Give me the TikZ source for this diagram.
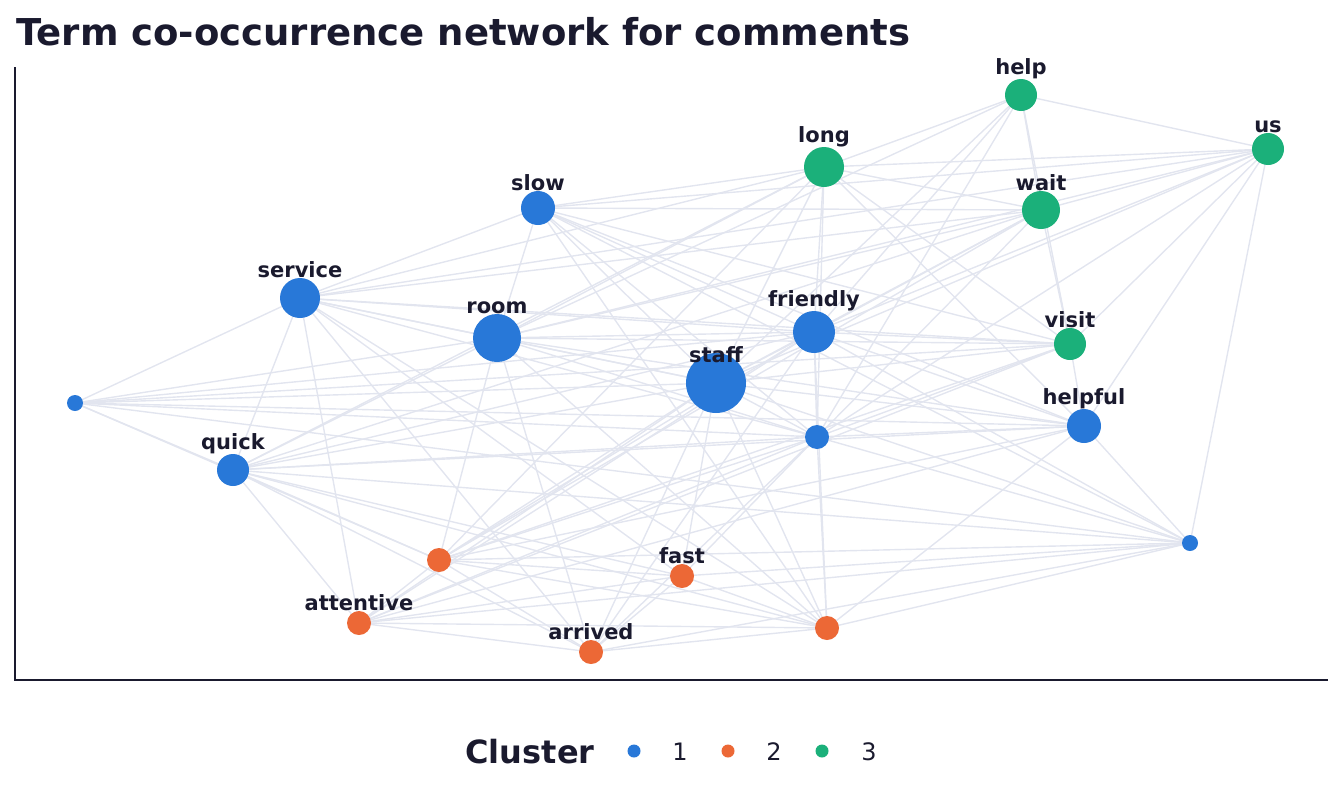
\documentclass[tikz,border=0pt]{standalone}
\usepackage{fontspec}
\setmainfont{DejaVu Sans}
\begin{document}
\begin{tikzpicture}[x=1pt,y=-1pt,
 edge/.style={draw=edgec,line width=1.4pt},
 lbl/.style={font=\bfseries\fontsize{21}{21}\selectfont,text=ink,anchor=south},
 c1/.style={circle,fill=blue1,inner sep=0pt},
 c2/.style={circle,fill=orange2,inner sep=0pt},
 c3/.style={circle,fill=green3,inner sep=0pt}]
\definecolor{edgec}{HTML}{E2E5EF}
\definecolor{ink}{HTML}{1A1A2E}
\definecolor{blue1}{HTML}{2878D8}
\definecolor{orange2}{HTML}{EC6836}
\definecolor{green3}{HTML}{1BB07A}
\useasboundingbox (0,0) rectangle (1344,806);
\foreach \n/\x/\y in {help/1021/95,us/1268/149,long/824/167,wait/1041/210,slow/538/208,serv/300/298,room/497/338,fri/814/332,visit/1070/344,staff/716/383,a/75/403,b/817/437,hful/1084/426,quick/233/470,c/1190/543,o1/439/560,fast/682/576,att/359/623,arr/591/652,o2/827/628}
  \coordinate (\n) at (\x,\y);
\foreach \s/\t in {help/long,help/wait,help/us,help/fri,help/b,help/room,help/staff,help/visit,
 us/long,us/wait,us/slow,us/room,us/visit,us/hful,us/staff,us/fri,us/b,us/c,us/serv,
 long/slow,long/serv,long/room,long/fri,long/wait,long/staff,long/visit,long/b,long/hful,long/o1,long/quick,
 wait/slow,wait/serv,wait/room,wait/fri,wait/visit,wait/staff,wait/b,wait/quick,wait/o1,
 slow/serv,slow/room,slow/fri,slow/staff,slow/hful,slow/b,slow/visit,slow/o2,slow/c,
 serv/room,serv/fri,serv/staff,serv/a,serv/quick,serv/visit,serv/att,serv/arr,serv/o2,serv/fast,serv/b,
 room/fri,room/staff,room/visit,room/a,room/quick,room/o1,room/arr,room/b,room/o2,room/hful,
 fri/staff,fri/visit,fri/b,fri/o1,fri/att,fri/hful,fri/quick,fri/a,fri/arr,fri/o2,fri/c,
 visit/staff,visit/b,visit/o1,visit/att,visit/hful,visit/a,
 staff/a,staff/b,staff/quick,staff/o1,staff/fast,staff/arr,staff/o2,staff/hful,staff/c,staff/att,
 a/quick,a/b,a/hful,a/o1,a/c,
 b/quick,b/o1,b/o2,b/att,b/fast,b/hful,b/c,b/arr,
 hful/quick,hful/o1,hful/c,hful/o2,hful/att,
 quick/o1,quick/fast,quick/arr,quick/o2,quick/c,quick/att,
 c/o1,c/fast,c/att,c/o2,c/arr,
 o1/fast,o1/arr,o1/o2,o1/att,fast/att,fast/o2,fast/arr,att/arr,att/o2,arr/o2}
  \draw[edge] (\s) -- (\t);
\node[c3,minimum size=32pt] (nhelp) at (help) {};
\node[c3,minimum size=32pt] (nus) at (us) {};
\node[c3,minimum size=40pt] (nlong) at (long) {};
\node[c3,minimum size=38pt] (nwait) at (wait) {};
\node[c1,minimum size=34pt] (nslow) at (slow) {};
\node[c1,minimum size=40pt] (nserv) at (serv) {};
\node[c1,minimum size=48pt] (nroom) at (room) {};
\node[c1,minimum size=42pt] (nfri) at (fri) {};
\node[c3,minimum size=32pt] (nvisit) at (visit) {};
\node[c1,minimum size=60pt] (nstaff) at (staff) {};
\node[c1,minimum size=16pt] (na) at (a) {};
\node[c1,minimum size=24pt] (nb) at (b) {};
\node[c1,minimum size=34pt] (nhful) at (hful) {};
\node[c1,minimum size=32pt] (nquick) at (quick) {};
\node[c1,minimum size=16pt] (nc) at (c) {};
\node[c2,minimum size=24pt] (no1) at (o1) {};
\node[c2,minimum size=24pt] (nfast) at (fast) {};
\node[c2,minimum size=24pt] (natt) at (att) {};
\node[c2,minimum size=24pt] (narr) at (arr) {};
\node[c2,minimum size=24pt] (no2) at (o2) {};
\foreach \n/\t in {help/help,us/us,long/long,wait/wait,slow/slow,serv/service,room/room,fri/friendly,visit/visit,hful/helpful,quick/quick,fast/fast,att/attentive,arr/arrived}
  \node[lbl] (l\n) at ([yshift=-4pt]n\n.north) {\t};
\node[lbl] (lstaff) at ([yshift=-14pt]nstaff.north) {staff};
\node[anchor=west,font=\bfseries\fontsize{37}{37}\selectfont,text=ink] (title) at (13,32) {Term co-occurrence network for comments};
\coordinate (ax0) at (15,680); \coordinate (axt) at (15,67); \coordinate (axr) at (1328,680);
\draw[ink,line width=1.8pt] (axt) -- (ax0) -- (axr);
\node[font=\bfseries\fontsize{32}{32}\selectfont,text=ink] (leg) at (530,752) {Cluster};
\node[c1,minimum size=13pt] (d1) at (634,751) {};
\node[c2,minimum size=13pt] (d2) at (728,751) {};
\node[c3,minimum size=13pt] (d3) at (822,751) {};
\node[font=\fontsize{24}{24}\selectfont,text=ink] (t1) at (680,752) {1};
\node[font=\fontsize{24}{24}\selectfont,text=ink] (t2) at (774,752) {2};
\node[font=\fontsize{24}{24}\selectfont,text=ink] (t3) at (869,752) {3};
\end{tikzpicture}
\end{document}
